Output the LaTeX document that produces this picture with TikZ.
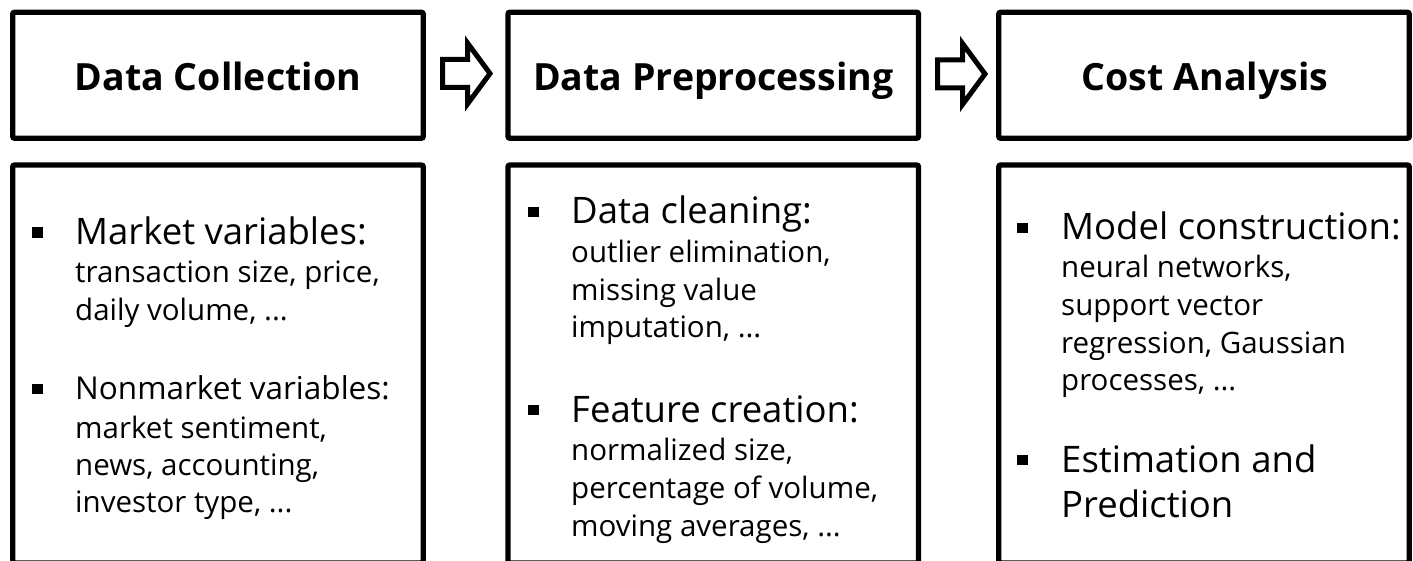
\documentclass[tikz,border=0pt]{standalone}
\usepackage{fontspec}
\setmainfont{Open Sans}
\begin{document}
\begin{tikzpicture}[x=1pt,y=-1pt,
  box/.style={draw, line width=5.3pt, rounded corners=2pt, inner sep=0pt},
  headbox/.style={box, minimum width=410.6pt, minimum height=126pt},
  bodybox/.style={box, minimum width=410.6pt, minimum height=398pt},
  headtext/.style={anchor=base, inner sep=0pt, font=\fontsize{37.5}{45}\selectfont\bfseries},
  itemtext/.style={anchor=base west, inner sep=0pt, font=\fontsize{36.5}{44}\selectfont},
  smallitem/.style={anchor=base west, inner sep=0pt, font=\fontsize{31.5}{38}\selectfont},
  subtext/.style={anchor=base west, inner sep=0pt, font=\fontsize{29.5}{36}\selectfont},
  bul/.style={fill=black, minimum size=10.5pt, inner sep=0pt},
  blockarrow/.style={draw, line width=5pt, line join=miter}
]
\useasboundingbox (0,0) rectangle (1413,561);

% top boxes
\node[headbox] (t1) at (218,75.25) {};
\node[headbox] (t2) at (713.25,75.25) {};
\node[headbox] (t3) at (1204,75.25) {};
\node[headtext] (h1) at (218,91) {Data Collection};
\node[headtext] (h2) at (713.25,91) {Data Preprocessing};
\node[headtext] (h3) at (1205,91) {Cost Analysis};

% bottom boxes
\node[bodybox] (b1) at (218,364) {};
\node[bodybox] (b2) at (713.25,364) {};
\node[bodybox] (b3) at (1204,364) {};

% block arrows
\coordinate (a1) at (442.5,73.5);
\coordinate (a2) at (937.5,74);
\draw[blockarrow] (a1) ++(0,-14) -- ++(25,0) -- ++(0,-16.5) -- ++(22.5,30.5) -- ++(-22.5,30.5) -- ++(0,-16.5) -- ++(-25,0) -- cycle;
\draw[blockarrow] (a2) ++(0,-14) -- ++(25,0) -- ++(0,-16.5) -- ++(22.5,30.5) -- ++(-22.5,30.5) -- ++(0,-16.5) -- ++(-25,0) -- cycle;

% box 1
\node[bul] (p1) at (37.5,232.5) {};
\node[itemtext] (m1) at (75,245) {Market variables:};
\node[subtext] (m1a) at (75,283) {transaction size, price,};
\node[subtext] (m1b) at (75,320) {daily volume, ...};
\node[bul] (p2) at (37.5,389) {};
\node[smallitem] (n1) at (75,399) {Nonmarket variables:};
\node[subtext] (n1a) at (75,438) {market sentiment,};
\node[subtext] (n1b) at (75,475) {news, accounting,};
\node[subtext] (n1c) at (75,512) {investor type, ...};

% box 2
\node[bul] (p3) at (533.5,212) {};
\node[itemtext] (d1) at (571,224) {Data cleaning:};
\node[subtext] (d1a) at (571,262) {outlier elimination,};
\node[subtext] (d1b) at (571,300) {missing value};
\node[subtext] (d1c) at (571,337) {imputation, ...};
\node[bul] (p4) at (533.5,410) {};
\node[itemtext] (f1) at (571,422) {Feature creation:};
\node[subtext] (f1a) at (571,460) {normalized size,};
\node[subtext] (f1b) at (571,498) {percentage of volume,};
\node[subtext] (f1c) at (571,536) {moving averages, ...};

% box 3
\node[bul] (p5) at (1022.5,228) {};
\node[itemtext] (c1) at (1061,240) {Model construction:};
\node[subtext] (c1a) at (1061,278) {neural networks,};
\node[subtext] (c1b) at (1061,315) {support vector};
\node[subtext] (c1c) at (1061,353) {regression, Gaussian};
\node[subtext] (c1d) at (1061,390) {processes, ...};
\node[bul] (p6) at (1022.5,460) {};
\node[itemtext] (e1) at (1061,472) {Estimation and};
\node[itemtext] (e2) at (1061,517) {Prediction};
\end{tikzpicture}
\end{document}
